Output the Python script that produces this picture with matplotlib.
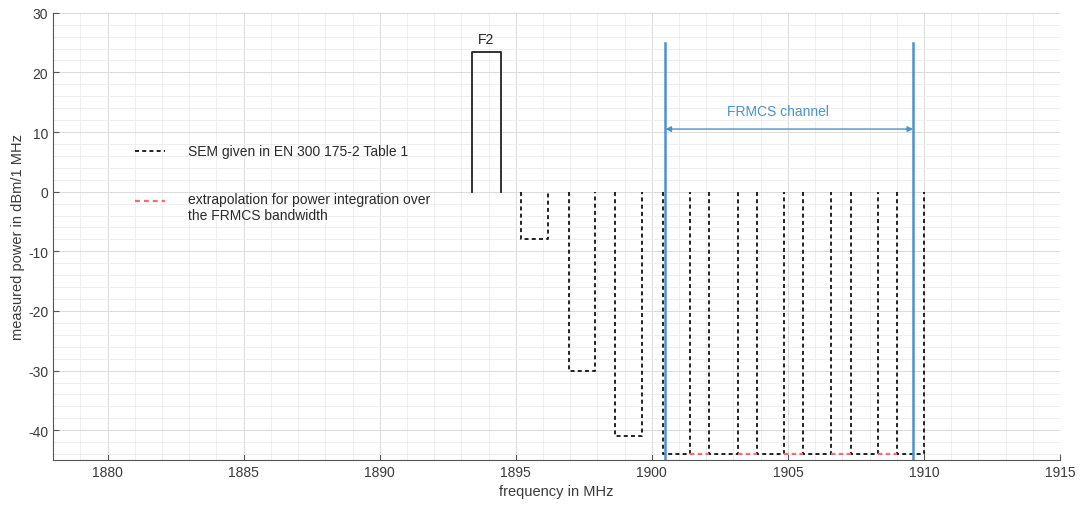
import numpy as np
import matplotlib.pyplot as plt
from matplotlib.ticker import MultipleLocator

plt.rcParams['font.family'] = ['Liberation Sans', 'DejaVu Sans']
plt.rcParams['axes.unicode_minus'] = False

# F2 carrier (solid box)
f2_left = 1893.4
f2_right = 1894.45
f2_top = 23.5

# SEM given in EN 300 175-2 Table 1 (dashed boxes)
sem_left = [1895.2, 1896.95, 1898.65, 1900.4, 1902.1, 1903.85, 1905.55, 1907.3, 1909.0]
sem_right = [1896.2, 1897.9, 1899.65, 1901.4, 1903.15, 1904.85, 1906.6, 1908.3, 1910.0]
sem_level = [-8, -30, -41, -44, -44, -44, -44, -44, -44]

# extrapolation (red dashed) in the gaps
extra_left = [1901.4, 1903.15, 1904.85, 1906.6, 1908.3]
extra_right = [1902.1, 1903.85, 1905.55, 1907.3, 1909.0]
extra_level = -44

# FRMCS channel edges
frmcs_lo = 1900.5
frmcs_hi = 1909.6
frmcs_top = 25

blue = '#4A93CC'
red = '#EE6F78'
dash = (0, (2.2, 1.8))

fig = plt.figure(figsize=(10.85, 5.10), dpi=100)
ax = fig.add_axes([0.049, 0.096, 0.928, 0.877])

# F2 box
ax.plot([f2_left, f2_left, f2_right, f2_right], [0, f2_top, f2_top, 0],
        color='#222222', lw=1.3, zorder=3)
ax.text((f2_left + f2_right) / 2, f2_top + 1.0, 'F2', ha='center', va='bottom',
        fontsize=10, color='#222222')

# SEM dashed boxes
for l, r, lev in zip(sem_left, sem_right, sem_level):
    ax.plot([l, l, r, r], [0, lev, lev, 0], color='#111111', lw=1.3,
            linestyle=dash, zorder=3)

# red extrapolation
for l, r in zip(extra_left, extra_right):
    ax.plot([l, r], [extra_level, extra_level], color=red, lw=1.6,
            linestyle=(0, (2, 1.5)), zorder=4)

# FRMCS channel
ymin, ymax = -45, 30
ax.plot([frmcs_lo, frmcs_lo], [ymin, frmcs_top], color=blue, lw=1.8, zorder=5)
ax.plot([frmcs_hi, frmcs_hi], [ymin, frmcs_top], color=blue, lw=1.8, zorder=5)
ax.annotate('', xy=(frmcs_hi, 10.5), xytext=(frmcs_lo, 10.5),
            arrowprops=dict(arrowstyle='<|-|>', color=blue, lw=1.0,
                            mutation_scale=8, shrinkA=0, shrinkB=0), zorder=5)
ax.text((frmcs_lo + frmcs_hi) / 2 - 0.4, 13.6, 'FRMCS channel', ha='center',
        va='center', fontsize=10, color=blue)

# legend-like annotations
ax.plot([1881.0, 1882.1], [6.8, 6.8], color='#111111', lw=1.3, linestyle=dash)
ax.text(1882.95, 6.8, 'SEM given in EN 300 175-2 Table 1', ha='left',
        va='center', fontsize=10, color='#2a2a2a')
ax.plot([1881.0, 1882.1], [-1.5, -1.5], color=red, lw=1.6, linestyle=dash)
ax.text(1882.95, 0.0, 'extrapolation for power integration over\nthe FRMCS bandwidth',
        ha='left', va='top', fontsize=10, color='#2a2a2a', linespacing=1.2)

ax.set_xlim(1878, 1915)
ax.set_ylim(ymin, ymax)
ax.xaxis.set_major_locator(MultipleLocator(5))
ax.xaxis.set_minor_locator(MultipleLocator(1))
ax.yaxis.set_major_locator(MultipleLocator(10))
ax.yaxis.set_minor_locator(MultipleLocator(2))

ax.set_axisbelow(True)
ax.grid(which='major', color='#dadada', lw=0.7)
ax.grid(which='minor', color='#ececec', lw=0.6)

for s in ['top', 'right']:
    ax.spines[s].set_visible(False)
for s in ['left', 'bottom']:
    ax.spines[s].set_color('#555555')
    ax.spines[s].set_linewidth(0.8)
ax.tick_params(which='major', direction='in', length=4, color='#555555',
               labelsize=10, labelcolor='#3a3a3a')
ax.tick_params(which='minor', length=0)

ax.set_xlabel('frequency in MHz', fontsize=10.5, color='#3a3a3a', labelpad=4)
ax.set_ylabel('measured power in dBm/1 MHz', fontsize=10.5, color='#3a3a3a',
              labelpad=2)

fig.savefig('out.png', dpi=100)
